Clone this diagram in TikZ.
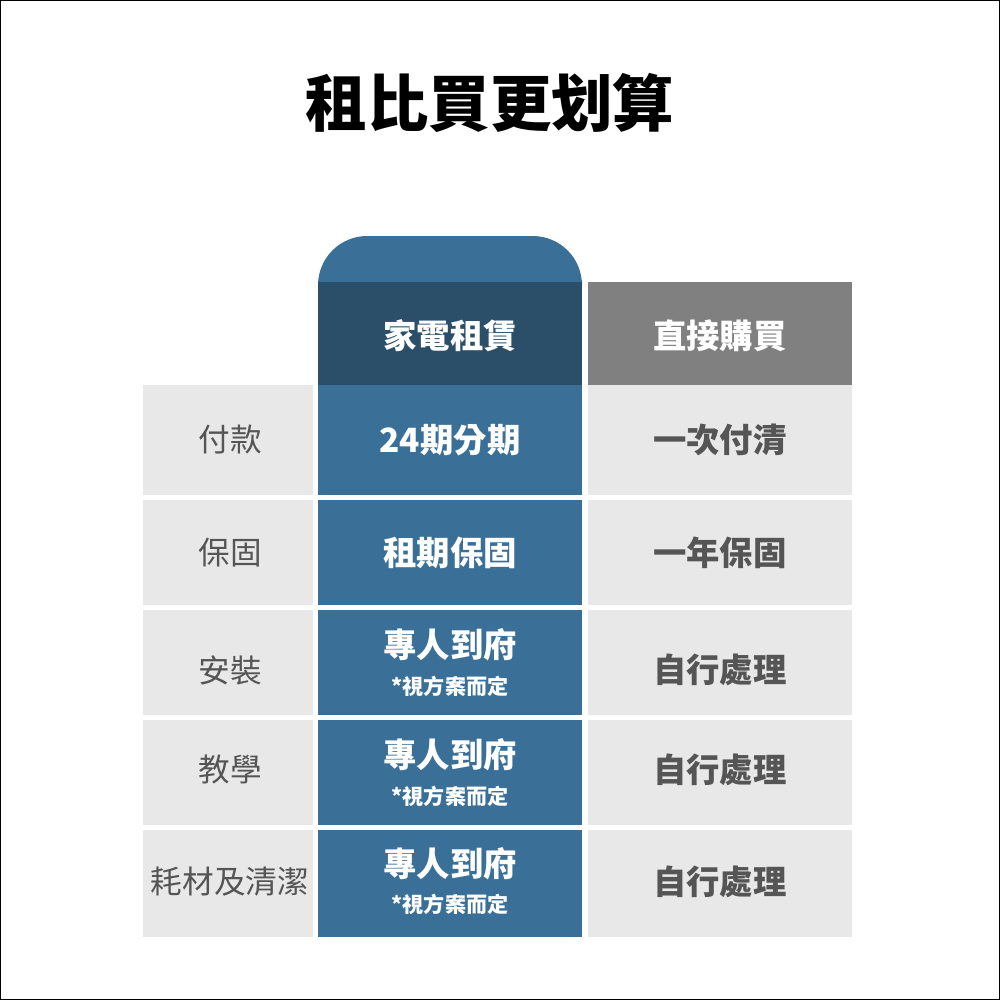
\documentclass[tikz,border=0pt]{standalone}
\usepackage{fontspec}
\setmainfont{Noto Sans CJK TC}
\newfontfamily\cjkb{Noto Sans CJK TC}[BoldFont={* Bold}]
\definecolor{bluec}{HTML}{3A7097}
\definecolor{blued}{HTML}{2B4F68}
\definecolor{grayh}{HTML}{808080}
\definecolor{lightg}{HTML}{E8E8E8}
\definecolor{txtg}{HTML}{555555}
\begin{document}
\begin{tikzpicture}[x=0.02cm,y=-0.02cm,
  lab/.style={font=\fontsize{18}{20}\selectfont, text=txtg},
  bl/.style={font=\bfseries\fontsize{19}{21}\selectfont, text=white},
  sm/.style={font=\bfseries\fontsize{12}{14}\selectfont, text=white},
  rt/.style={font=\bfseries\fontsize{19}{21}\selectfont, text=txtg}]
\draw[fill=white,line width=0.6pt] (0.5,0.5) rectangle (999.5,999.5);
\node[font=\bfseries\fontsize{35}{40}\selectfont] (title) at (490,103) {租比買更划算};
% blue bump
\fill[bluec,rounded corners=28pt] (318,236) rectangle (582,330);
\fill[blued] (318,282) rectangle (582,385);
\fill[grayh] (588,282) rectangle (852,385);
\node[bl] (h1) at (450,336) {家電租賃};
\node[bl] (h2) at (720,336) {直接購買};
\foreach \t/\b [count=\i] in {385/495,500/605,610/715,720/825,830/937}{
  \fill[lightg] (143,\t) rectangle (313,\b);
  \fill[bluec] (318,\t) rectangle (582,\b);
  \fill[lightg] (588,\t) rectangle (852,\b);
}
\node[lab] (l1) at (230,440) {付款};
\node[lab] (l2) at (230,553) {保固};
\node[lab] (l3) at (230,670) {安裝};
\node[lab] (l4) at (230,770) {教學};
\node[lab] (l5) at (230,882) {耗材及清潔};
\node[bl] (b1) at (450,440) {24期分期};
\node[bl] (b2) at (450,553) {租期保固};
\node[bl] (b3) at (450,645) {專人到府};
\node[sm] (s3) at (450,686) {*視方案而定};
\node[bl] (b4) at (450,755) {專人到府};
\node[sm] (s4) at (450,796) {*視方案而定};
\node[bl] (b5) at (450,864) {專人到府};
\node[sm] (s5) at (450,904) {*視方案而定};
\node[rt] (r1) at (720,440) {一次付清};
\node[rt] (r2) at (720,553) {一年保固};
\node[rt] (r3) at (720,670) {自行處理};
\node[rt] (r4) at (720,770) {自行處理};
\node[rt] (r5) at (720,882) {自行處理};
\end{tikzpicture}
\end{document}
